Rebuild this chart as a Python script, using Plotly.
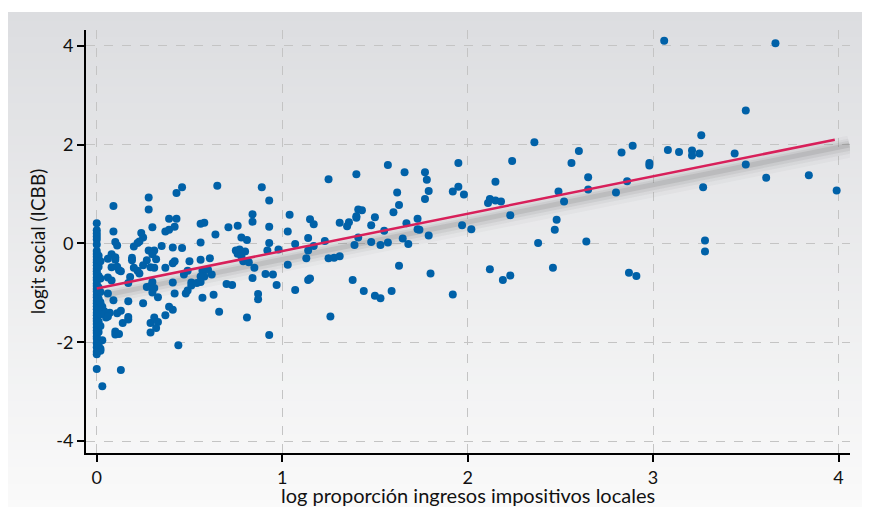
import plotly.graph_objects as go

# ---------------- data ----------------
pts_x = [
    3.06, 3.66, 3.50, 3.26, 2.60, 2.89, 2.83, 2.56, 2.98, 2.98, 3.08, 3.14, 3.21, 3.21, 3.25, 3.44, 3.50, 3.61, 3.84, 3.99,
    3.27, 2.65, 2.65, 2.86, 2.80, 2.64, 3.28, 3.28, 2.87, 2.91,
    2.36, 2.24, 2.15, 2.12, 2.11, 2.15, 2.18, 2.23, 2.49, 2.52, 2.48, 2.47, 2.38, 2.12, 2.19, 2.23, 2.46,
    1.80, 1.92, 1.63, 1.59, 1.50, 1.53, 1.44, 1.38, 1.26, 1.14, 1.15, 1.13, 1.25, 1.28, 1.31, 1.14,
    1.57, 1.95, 1.25, 1.40, 1.66, 1.77, 1.78, 1.79, 1.77, 1.62, 1.63, 1.60, 1.92, 1.95, 1.98, 1.41, 1.43, 1.40, 1.40, 1.50,
    1.31, 1.36, 1.35, 1.48, 1.73, 1.67, 1.55, 1.73, 1.74, 1.97, 2.02, 1.79, 1.41, 1.23, 1.39, 1.48, 1.53, 1.57, 1.65, 1.68,
    1.15, 1.17, 1.14, 1.17,
    0.65, 0.89, 0.93, 0.84, 0.84, 0.58, 0.56, 0.71, 0.76, 0.93, 1.04, 0.64, 1.03, 0.78, 0.81, 0.93, 1.07, 0.56, 0.75, 0.77,
    0.80, 0.76, 0.78, 0.92, 0.98, 0.56, 0.61, 0.78, 0.79, 0.82, 0.85, 1.03, 0.57, 0.60, 0.62, 0.58, 0.56, 0.84, 0.91, 0.95,
    0.70, 0.73, 0.97,
    0.57, 0.63, 0.66, 0.81, 0.87, 0.87, 0.93, 1.07,
    0.46, 0.43, 0.28, 0.28, 0.09, 0.39, 0.43, 0.30, 0.37, 0.39, 0.42, 0.24, 0.25, 0.22, 0.20, 0.35, 0.41, 0.46, 0.09, 0.10, 0.11,
    0.23, 0.28, 0.31, 0.30, 0.08, 0.06, 0.10, 0.08, 0.12, 0.13, 0.19, 0.19, 0.20, 0.22, 0.25, 0.27, 0.29, 0.31, 0.32, 0.37,
    0.41, 0.42, 0.50, 0.47, 0.06, 0.08, 0.17, 0.23, 0.41, 0.51,
    0.03, 0.13, 0.02, 0.02, 0.03, 0.06, 0.03, 0.04, 0.05, 0.07, 0.06, 0.09, 0.11, 0.13, 0.17, 0.25, 0.14, 0.17, 0.17, 0.10,
    0.10, 0.12, 0.29, 0.29, 0.31, 0.33, 0.32, 0.37, 0.39, 0.41, 0.44, 0.27, 0.29, 0.30, 0.33, 0.42, 0.48, 0.49, 0.51, 0.54,
    0.10, 0.11, 0.18, 0.30, 0.31, 0.49, 0.56,
    0.00, 0.00, 0.00, 0.00, 0.00, 0.00, 0.00, 0.00, 0.00, 0.00, 0.00, 0.00, 0.00, 0.00, 0.00, 0.00, 0.00, 0.00, 0.00, 0.00,
    0.00, 0.00, 0.00, 0.00, 0.00, 0.00, 0.00, 0.00, 0.00, 0.00, 0.00, 0.00, 0.00, 0.00, 0.00, 0.00, 0.00, 0.00, 0.00, 0.00,
    0.00, 0.00,
    0.01, 0.01, 0.01, 0.01, 0.01, 0.01, 0.01, 0.01, 0.01,
    0.02, 0.02, 0.02, 0.02, 0.02, 0.02,
]
pts_y = [
    4.10, 4.05, 2.69, 2.19, 1.87, 1.98, 1.84, 1.63, 1.63, 1.58, 1.89, 1.85, 1.88, 1.78, 1.82, 1.82, 1.60, 1.33, 1.38, 1.07,
    1.14, 1.34, 1.09, 1.26, 1.03, 0.04, 0.06, -0.16, -0.59, -0.66,
    2.05, 1.67, 1.25, 0.90, 0.82, 0.87, 0.85, 0.57, 1.05, 0.85, 0.48, 0.28, 0.01, -0.52, -0.74, -0.65, -0.49,
    -0.61, -1.03, -0.45, -0.96, -1.06, -1.11, -0.96, -0.74, -1.48, -0.74, -0.71, -0.30, -0.30, -0.29, -0.26, -0.14,
    1.59, 1.63, 1.30, 1.40, 1.44, 1.44, 1.29, 1.06, 0.90, 1.03, 0.78, 0.63, 1.05, 1.15, 0.99, 0.69, 0.67, 0.55, 0.52, 0.53,
    0.42, 0.43, 0.35, 0.37, 0.50, 0.41, 0.26, 0.29, 0.28, 0.37, 0.29, 0.16, 0.12, 0.05, -0.03, 0.03, -0.03, 0.02, 0.10, -0.01,
    0.49, 0.39, 0.11, -0.05,
    1.17, 1.14, 0.87, 0.59, 0.44, 0.42, 0.40, 0.33, 0.36, 0.34, 0.58, 0.18, 0.24, 0.12, 0.07, 0.01, -0.01, 0.02, -0.14, -0.12,
    -0.16, -0.21, -0.17, -0.14, -0.12, -0.33, -0.30, -0.26, -0.36, -0.38, -0.49, -0.43, -0.55, -0.53, -0.63, -0.67, -0.67, -0.70, -0.62, -0.63,
    -0.82, -0.84, -0.84,
    -1.10, -1.04, -1.38, -1.50, -1.02, -1.13, -1.85, -0.94,
    1.14, 1.02, 0.93, 0.69, 0.76, 0.50, 0.50, 0.33, 0.24, 0.28, 0.34, 0.21, 0.12, 0.01, -0.06, -0.05, -0.08, -0.09, 0.24, 0.03, -0.04,
    0.04, -0.14, -0.14, -0.22, -0.22, -0.31, -0.33, -0.48, -0.54, -0.56, -0.29, -0.34, -0.49, -0.55, -0.44, -0.34, -0.48, -0.49, -0.32, -0.49,
    -0.40, -0.36, -0.36, -0.63, -0.69, -0.75, -0.80, -0.61, -0.79, -0.79,
    -2.89, -2.56, -2.13, -2.17, -1.96, -1.01, -1.28, -1.37, -1.50, -1.40, -1.48, -1.15, -1.41, -1.36, -1.17, -1.21, -1.61, -1.49, -1.54, -1.78,
    -1.84, -1.83, -1.61, -1.80, -1.50, -1.59, -1.71, -1.45, -1.28, -1.34, -2.06, -0.88, -0.86, -0.78, -1.09, -1.01, -1.01, -0.95, -0.85, -0.80,
    -0.28, -0.47, -0.68, -0.99, -0.90, -0.55, -0.78,
    0.41, 0.27, 0.20, 0.14, 0.08, -0.02, -0.15, -0.21, -0.27, -0.33, -0.38, -0.44, -0.51, -0.56, -0.62, -0.69, -0.74, -0.81, -0.86, -0.92,
    -0.97, -1.04, -1.09, -1.16, -1.21, -1.27, -1.33, -1.40, -1.45, -1.52, -1.57, -1.63, -1.70, -1.76, -1.81, -1.88, -1.93, -2.02, -2.10, -2.19,
    -2.24, -2.54,
    -0.25, -0.47, -0.66, -0.89, -1.12, -1.31, -1.58, -1.79, -2.05,
    -0.36, -0.71, -0.98, -1.19, -1.43, -1.67,
]

fit_x = [0.0, 3.98]
fit_y = [-0.91, 2.10]

x_ticks = [0, 1, 2, 3, 4]
x_tick_text = ["0", "1", "2", "3", "4"]
y_ticks = [-4, -2, 0, 2, 4]
y_tick_text = ["-4", "-2", "0", "2", "4"]

x_title = "log proporción ingresos impositivos locales"
y_title = "logit social (ICBB)"

# ---------------- styling ----------------
FONT = "Lato, 'Open Sans', sans-serif"
DOT = "#0061a8"
LINE = "#d8205a"
TXT = "#111111"

fig = go.Figure()

# soft drop shadow under the fitted line
slope = (fit_y[1] - fit_y[0]) / (fit_x[1] - fit_x[0])
sx = [fit_x[0] + 0.04, fit_x[1] + 0.08]
for w, a, off in [(22, 0.03, 0.20), (15, 0.05, 0.19), (10, 0.07, 0.18), (5, 0.10, 0.17)]:
    sy = [fit_y[0] + slope * (v - fit_x[0]) - off for v in sx]
    fig.add_trace(go.Scatter(x=sx, y=sy, mode="lines",
                             line=dict(color=f"rgba(50,50,50,{a})", width=w),
                             hoverinfo="skip", showlegend=False))

fig.add_trace(go.Scatter(x=pts_x, y=pts_y, mode="markers",
                         marker=dict(color=DOT, size=8, line=dict(width=0)),
                         showlegend=False))

fig.add_trace(go.Scatter(x=fit_x, y=fit_y, mode="lines",
                         line=dict(color=LINE, width=2.5), showlegend=False))

# vertical gradient background (paper coordinates)
x0p, x1p = -0.1021, 1.03
ytop, ybot = 1.0426, -0.13
n = 60
c_top = (220, 221, 224)
c_bot = (250, 250, 250)
shapes = []
for i in range(n):
    t = (i + 0.5) / n
    c = tuple(round(c_top[k] + (c_bot[k] - c_top[k]) * t) for k in range(3))
    y_hi = ytop + (ybot - ytop) * i / n
    y_lo = ytop + (ybot - ytop) * (i + 1) / n
    shapes.append(dict(type="rect", xref="paper", yref="paper", x0=x0p, x1=x1p,
                       y0=y_lo - 0.002, y1=y_hi, fillcolor=f"rgb{c}",
                       line=dict(width=0), layer="below"))

fig.update_layout(
    width=862, height=499,
    margin=dict(l=78, r=20, t=22, b=54, autoexpand=False),
    paper_bgcolor="white",
    plot_bgcolor="rgba(0,0,0,0)",
    shapes=shapes,
    font=dict(family=FONT, size=18, color=TXT),
    showlegend=False,
    annotations=[dict(text=x_title, xref="paper", yref="paper", x=0.5, y=0,
                      xanchor="center", yanchor="top", yshift=-28, showarrow=False,
                      font=dict(family=FONT, size=20, color=TXT))],
)

fig.update_xaxes(
    range=[-0.058, 4.062], tickvals=x_ticks, ticktext=x_tick_text, automargin=False,
    showline=True, linecolor="black", linewidth=2,
    ticks="outside", ticklen=7, tickwidth=2, tickcolor="black",
    tickfont=dict(family=FONT, size=18, color=TXT),
    showgrid=True, gridcolor="#c4c4c4", griddash="dash", gridwidth=1,
    zeroline=False,
)
fig.update_yaxes(
    range=[-4.24, 4.32], tickvals=y_ticks, ticktext=y_tick_text, automargin=False,
    showline=True, linecolor="black", linewidth=2,
    ticks="outside", ticklen=7, tickwidth=2, tickcolor="black",
    tickfont=dict(family=FONT, size=18, color=TXT),
    showgrid=True, gridcolor="#c4c4c4", griddash="dash", gridwidth=1,
    zeroline=False,
    title=dict(text=y_title, font=dict(family=FONT, size=19, color=TXT), standoff=6),
)

fig.write_html("out.html")
